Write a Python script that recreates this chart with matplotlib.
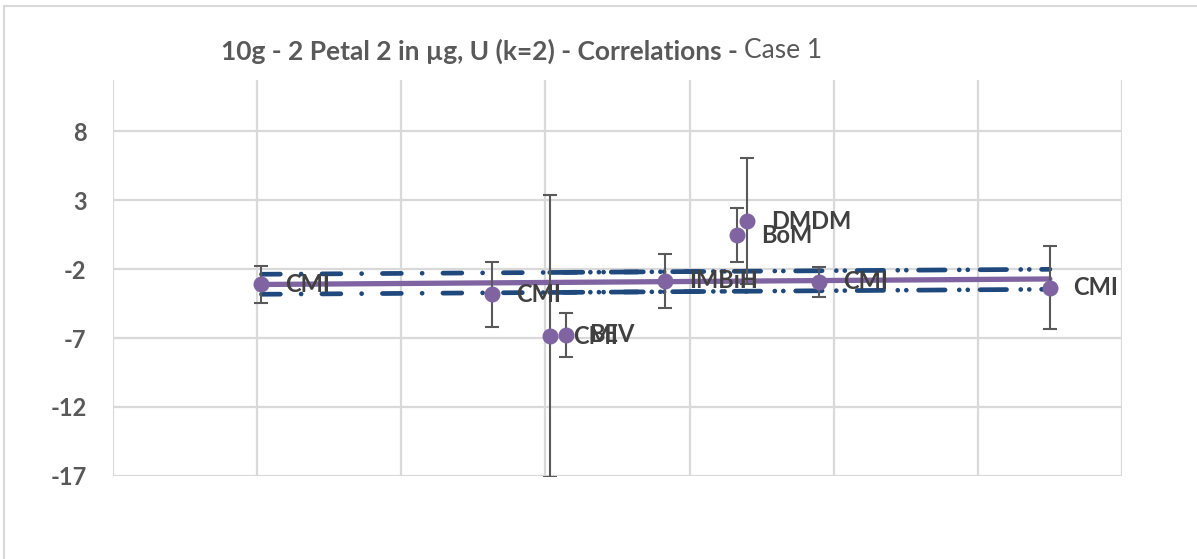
import numpy as np
import matplotlib.pyplot as plt
from matplotlib.patches import Rectangle

# lab results (value and expanded uncertainty U, k=2)
labs = ["CMI", "CMI", "CMI", "BEV", "IMBiH", "BoM", "DMDM", "CMI", "CMI"]
x_pos = [1.03, 2.63, 3.03, 3.14, 3.83, 4.33, 4.40, 4.90, 6.50]
values = [-3.11, -3.83, -6.86, -6.78, -2.85, 0.46, 1.48, -2.92, -3.35]
u_k2 = [1.33, 2.36, 10.2, 1.6, 1.97, 1.93, 4.6, 1.1, 3.0]

# reference value line
ref_x = [1.03, 6.50]
ref_y = [-3.12, -2.72]

# uncertainty band of the reference, two overlapping pieces
band_a_x = [1.03, 4.40]
band_a_hi = [-2.38, -2.16]
band_a_lo = [-3.83, -3.61]
band_b_x = [3.03, 6.50]
band_b_hi = [-2.25, -2.02]
band_b_lo = [-3.70, -3.47]

y_ticks = [-17, -12, -7, -2, 3, 8]

PURPLE = '#8064A2'
NAVY = '#1F497D'
GREY = '#595959'
GRID = '#D9D9D9'

plt.rcParams['font.family'] = ['Lato', 'DejaVu Sans']
plt.rcParams['axes.unicode_minus'] = False

fig = plt.figure(figsize=(11.97, 5.59), dpi=100)
ax = fig.add_axes([0.0944, 0.1485, 0.8429, 0.7084])

ax.set_xlim(0, 7)
ax.set_ylim(-17, 11.7)
ax.set_xticks(range(8))
ax.set_yticks(y_ticks)
ax.set_xticklabels([])
ax.grid(True, color=GRID, lw=1.6, zorder=0)
ax.set_axisbelow(True)
for s in ax.spines.values():
    s.set_visible(False)
ax.tick_params(length=0, pad=19, labelsize=17, labelcolor=GREY)
for t in ax.get_yticklabels():
    t.set_fontweight('bold')

dash_dot = (0, (4.0, 4.4, 0.01, 4.4))
dash_dot_dot = (0, (5.6, 3.0, 0.01, 1.8, 0.01, 2.6))
for bx, hi, lo, ls in [(band_a_x, band_a_hi, band_a_lo, dash_dot),
                       (band_b_x, band_b_hi, band_b_lo, dash_dot_dot)]:
    for yy in (hi, lo):
        ax.plot(bx, yy, color=NAVY, lw=3.4, linestyle=ls,
                dash_capstyle='round', zorder=2)

ax.plot(ref_x, ref_y, color=PURPLE, lw=3.8, solid_capstyle='round', zorder=3)

ax.errorbar(x_pos, values, yerr=u_k2, fmt='none', ecolor=GREY,
            elinewidth=1.5, capsize=5, capthick=1.5, zorder=4)
ax.plot(x_pos, values, 'o', color=PURPLE, ms=10.5, zorder=5)

for xi, yi, name in zip(x_pos, values, labs):
    ax.annotate(name, (xi, yi), xytext=(17, 0), textcoords='offset points',
                va='center', ha='left', fontsize=17, fontweight='bold',
                color='#404040', zorder=6)

# title: bold part + regular "Case 1"
fig.text(738 / 1197, 1 - 51 / 559, '10g - 2 Petal 2 in µg, U (k=2) - Correlations -',
         ha='right', va='center', fontsize=19, fontweight='bold', color=GREY)
fig.text(744 / 1197, 1 - 51 / 559, 'Case 1',
         ha='left', va='center', fontsize=19, color=GREY)

# chart area outline
fig.add_artist(Rectangle((4 / 1197, -0.1), 1.1, 1 - 6 / 559 + 0.1,
                         transform=fig.transFigure, fill=False,
                         edgecolor=GRID, lw=1.5))

plt.savefig('out.png', dpi=100)
